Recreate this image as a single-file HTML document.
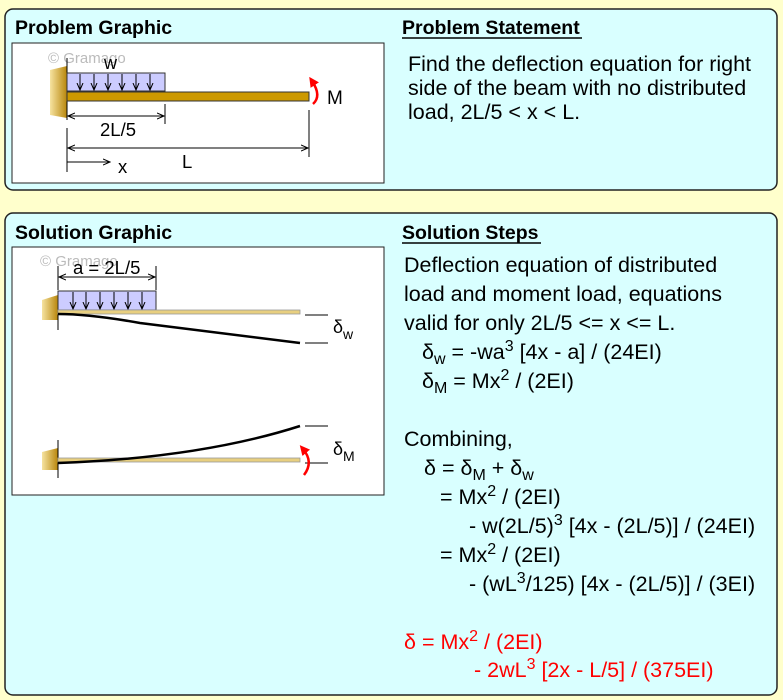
<!DOCTYPE html>
<html><head><style>
body{margin:0;background:#ffffcc;}
svg{display:block;font-family:"Liberation Sans",Arial,sans-serif;}
</style></head><body>
<svg width="783" height="700" viewBox="0 0 783 700">
<rect x="0" y="0" width="783" height="700" fill="#ffffcc"/>
<rect x="5" y="9" width="772" height="181" rx="8" fill="#d9ffff" stroke="#222" stroke-width="1.5"/>
<rect x="5" y="213" width="772" height="482" rx="8" fill="#d9ffff" stroke="#222" stroke-width="1.5"/>
<text x="15" y="34" font-size="19.5" font-weight="bold">Problem Graphic</text>
<text x="402" y="34" font-size="19.5" font-weight="bold">Problem Statement</text>
<line x1="402" y1="38" x2="582" y2="38" stroke="#000" stroke-width="1.5"/>
<text x="15" y="239" font-size="19.5" font-weight="bold">Solution Graphic</text>
<text x="402" y="239" font-size="19.5" font-weight="bold">Solution Steps</text>
<line x1="402" y1="243" x2="541" y2="243" stroke="#000" stroke-width="1.5"/>
<rect x="12" y="43" width="372" height="140" fill="#fff" stroke="#222"/>
<rect x="12" y="247" width="372" height="248" fill="#fff" stroke="#222"/>
<defs>
<linearGradient id="w" x1="0" x2="1"><stop offset="0" stop-color="#f6e3a0"/><stop offset="1" stop-color="#b8860b"/></linearGradient>
<marker id="a" markerWidth="8" markerHeight="8" refX="7" refY="4" orient="auto-start-reverse" markerUnits="userSpaceOnUse"><path d="M0,1 L7,4 L0,7" fill="none" stroke="#000" stroke-width="1"/></marker>
<marker id="r" markerWidth="10" markerHeight="10" refX="5" refY="5" orient="auto" markerUnits="userSpaceOnUse"><path d="M0,0 L10,5 L0,10z" fill="#f00"/></marker>
</defs>
<!-- problem graphic -->
<text x="48" y="63" font-size="15" fill="#bbb">© Gramago</text>
<path d="M67,66 L50,70 L50,115 L67,118z" fill="url(#w)"/>
<line x1="67" y1="58" x2="67" y2="120" stroke="#000"/>
<text x="104" y="69" font-size="18">w</text>
<rect x="67" y="73" width="98" height="18" fill="#ccccff" stroke="#333"/>
<g stroke="#000" marker-end="url(#a)">
<line x1="80" y1="74" x2="80" y2="90"/><line x1="94" y1="74" x2="94" y2="90"/><line x1="108" y1="74" x2="108" y2="90"/><line x1="122" y1="74" x2="122" y2="90"/><line x1="136" y1="74" x2="136" y2="90"/><line x1="150" y1="74" x2="150" y2="90"/>
</g>
<rect x="67" y="92" width="242" height="9" fill="#cc9900" stroke="#333"/>
<path d="M313,104 Q322,96 312,81" fill="none" stroke="#f00" stroke-width="2.5" marker-end="url(#r)"/>
<text x="327" y="104" font-size="19">M</text>
<line x1="67" y1="128" x2="67" y2="172" stroke="#000"/>
<line x1="165" y1="104" x2="165" y2="124" stroke="#000"/>
<line x1="309" y1="110" x2="309" y2="157" stroke="#000"/>
<line x1="68" y1="116" x2="164" y2="116" stroke="#000" marker-start="url(#a)" marker-end="url(#a)"/>
<text x="100" y="136" font-size="18.5">2L/5</text>
<line x1="68" y1="148" x2="308" y2="148" stroke="#000" marker-start="url(#a)" marker-end="url(#a)"/>
<text x="182" y="168" font-size="18.5">L</text>
<line x1="67" y1="162" x2="110" y2="162" stroke="#000" marker-end="url(#a)"/>
<text x="118" y="173" font-size="18.5">x</text>
<!-- solution graphic -->
<text x="40" y="266" font-size="15" fill="#bbb">© Gramago</text>
<text x="73" y="274" font-size="18.5">a = 2L/5</text>
<line x1="58" y1="266" x2="58" y2="290" stroke="#000"/>
<line x1="156" y1="266" x2="156" y2="290" stroke="#000"/>
<line x1="59" y1="277" x2="155" y2="277" stroke="#000" marker-start="url(#a)" marker-end="url(#a)"/>
<path d="M58,295 L42,300 L42,320 L58,320z" fill="url(#w)"/>
<line x1="58" y1="295" x2="58" y2="330" stroke="#000"/>
<rect x="58" y="291" width="98" height="19" fill="#ccccff" stroke="#333"/>
<g stroke="#000" marker-end="url(#a)">
<line x1="73" y1="292" x2="73" y2="309"/><line x1="86" y1="292" x2="86" y2="309"/><line x1="100" y1="292" x2="100" y2="309"/><line x1="114" y1="292" x2="114" y2="309"/><line x1="128" y1="292" x2="128" y2="309"/><line x1="142" y1="292" x2="142" y2="309"/>
</g>
<rect x="58" y="310" width="242" height="4" fill="#e8cf80" stroke="#999" stroke-width="0.8"/>
<path d="M58,314 Q90,314 140,323 L300,343" fill="none" stroke="#000" stroke-width="2.5"/>
<line x1="305" y1="315" x2="328" y2="315" stroke="#000"/>
<line x1="305" y1="343" x2="328" y2="343" stroke="#000"/>
<text x="333" y="333" font-size="18">δ<tspan font-size="14" dy="6">w</tspan></text>
<path d="M58,448 L42,452 L42,470 L58,470z" fill="url(#w)"/>
<line x1="58" y1="440" x2="58" y2="478" stroke="#000"/>
<rect x="58" y="458" width="242" height="4" fill="#e8cf80" stroke="#999" stroke-width="0.8"/>
<path d="M58,463 Q200,458 300,426" fill="none" stroke="#000" stroke-width="2.5"/>
<line x1="305" y1="426" x2="328" y2="426" stroke="#000"/>
<line x1="305" y1="463" x2="328" y2="463" stroke="#000"/>
<text x="333" y="455" font-size="18">δ<tspan font-size="14" dy="6">M</tspan></text>
<path d="M304,475 Q314,462 303,449" fill="none" stroke="#f00" stroke-width="2.5" marker-end="url(#r)"/>
<!-- text -->
<g font-size="21.5">
<text x="408" y="71">Find the deflection equation for right</text>
<text x="408" y="95">side of the beam with no distributed</text>
<text x="408" y="119">load, 2L/5 &lt; x &lt; L.</text>
<text x="404" y="272">Deflection equation of distributed</text>
<text x="404" y="301">load and moment load, equations</text>
<text x="404" y="330">valid for only 2L/5 &lt;= x &lt;= L.</text>
<text x="422" y="359">δ<tspan font-size="16" dy="5">w</tspan><tspan dy="-5"> = -wa</tspan><tspan font-size="16" dy="-8">3</tspan><tspan dy="8"> [4x - a] / (24EI)</tspan></text>
<text x="422" y="388">δ<tspan font-size="16" dy="5">M</tspan><tspan dy="-5"> = Mx</tspan><tspan font-size="16" dy="-8">2</tspan><tspan dy="8"> / (2EI)</tspan></text>
<text x="404" y="446">Combining,</text>
<text x="424" y="475">δ = δ<tspan font-size="16" dy="5">M</tspan><tspan dy="-5"> + δ</tspan><tspan font-size="16" dy="5">w</tspan></text>
<text x="440" y="504">= Mx<tspan font-size="16" dy="-8">2</tspan><tspan dy="8"> / (2EI)</tspan></text>
<text x="469" y="533">- w(2L/5)<tspan font-size="16" dy="-8">3</tspan><tspan dy="8"> [4x - (2L/5)] / (24EI)</tspan></text>
<text x="440" y="562">= Mx<tspan font-size="16" dy="-8">2</tspan><tspan dy="8"> / (2EI)</tspan></text>
<text x="469" y="591">- (wL<tspan font-size="16" dy="-8">3</tspan><tspan dy="8">/125) [4x - (2L/5)] / (3EI)</tspan></text>
<g fill="#f00">
<text x="404" y="649">δ = Mx<tspan font-size="16" dy="-8">2</tspan><tspan dy="8"> / (2EI)</tspan></text>
<text x="474" y="677">- 2wL<tspan font-size="16" dy="-8">3</tspan><tspan dy="8"> [2x - L/5] / (375EI)</tspan></text>
</g>
</g>
</svg>
</body></html>
